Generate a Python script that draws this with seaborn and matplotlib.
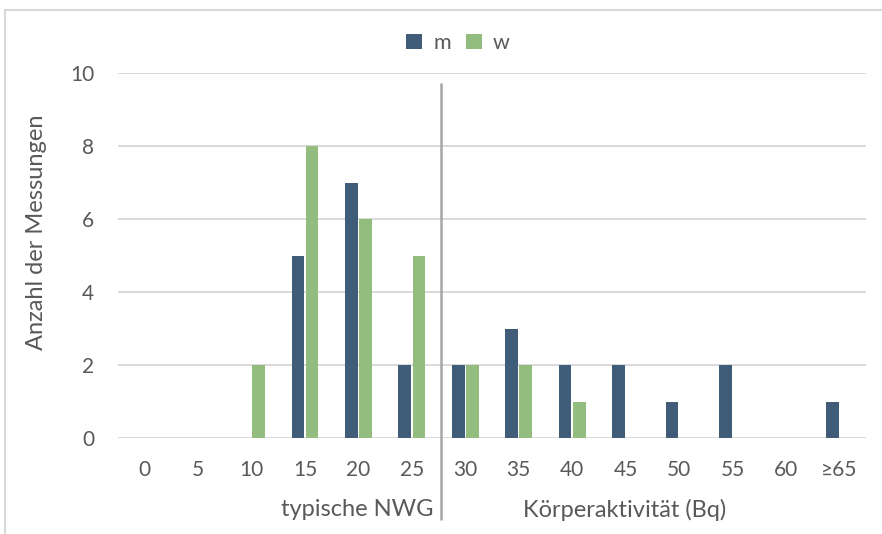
import matplotlib
matplotlib.use("Agg")
import matplotlib.pyplot as plt
import matplotlib.transforms as mtransforms
from matplotlib.patches import Rectangle
import pandas as pd
import seaborn as sns

# category axis and counts per group
categories = ["0", "5", "10", "15", "20", "25", "30", "35", "40", "45", "50", "55", "60", "≥65"]
m_counts = [0, 0, 0, 5, 7, 2, 2, 3, 2, 2, 1, 2, 0, 1]
w_counts = [0, 0, 2, 8, 6, 5, 2, 2, 1, 0, 0, 0, 0, 0]
y_ticks = [0, 2, 4, 6, 8, 10]

ylabel = "Anzahl der Messungen"
left_note = "typische NWG"
right_note = "Körperaktivität (Bq)"

colors = {"m": "#3f5d79", "w": "#93bd7e"}
text_col = "#595959"
grid_col = "#d9d9d9"

df = pd.concat([
    pd.DataFrame({"kat": categories, "n": m_counts, "g": "m"}),
    pd.DataFrame({"kat": categories, "n": w_counts, "g": "w"}),
])

sns.set_theme(style="white")
plt.rcParams["font.family"] = ["Lato", "DejaVu Sans"]

fig = plt.figure(figsize=(8.82, 5.34), dpi=100)
ax = fig.add_axes([118 / 882, 96 / 534, 748 / 882, 365 / 534])

sns.barplot(data=df, x="kat", y="n", hue="g", order=categories,
            hue_order=["m", "w"], palette=colors, width=0.53, gap=0.11,
            saturation=1, linewidth=0, ax=ax, legend=True)

ax.set_xlim(-0.5, len(categories) - 0.5)
ax.set_ylim(0, 10)
ax.set_yticks(y_ticks)
ax.yaxis.grid(True, color=grid_col, linewidth=1.4)
ax.set_axisbelow(True)
for s in ax.spines.values():
    s.set_visible(False)
ax.tick_params(axis="y", length=0, pad=17, labelsize=15, labelcolor=text_col)
ax.tick_params(axis="x", length=0, pad=16, labelsize=15, labelcolor=text_col)
ax.set_xlabel("")
ax.set_ylabel(ylabel, fontsize=17, color=text_col)
ax.yaxis.set_label_coords(-0.095, 0.565)

# separator between the two ranges
trans = mtransforms.blended_transform_factory(ax.transData, ax.transAxes)
ax.plot([5.54, 5.54], [0.973, -0.225], transform=trans, color="#a6a6a6",
        linewidth=1.8, clip_on=False, solid_capstyle="butt")
ax.text(5.40, -0.197, left_note, transform=trans, ha="right", va="center",
        fontsize=17, color=text_col)
ax.text(8.99, -0.197, right_note, transform=trans, ha="center", va="center",
        fontsize=17, color=text_col)

handles, labels = ax.get_legend_handles_labels()
ax.legend_.remove()
fig.legend(handles, labels, loc="center", bbox_to_anchor=(458 / 882, 1 - 43 / 534),
           ncol=2, frameon=False, fontsize=15.5, labelcolor=text_col,
           handlelength=0.75, handleheight=0.75, handletextpad=0.5, columnspacing=0.7)

# light chart-area border (runs off the right and bottom edge)
fig.patches.append(Rectangle((5 / 882, -0.05), 1.0, 1 - 10 / 534 + 0.05,
                             transform=fig.transFigure, fill=False,
                             edgecolor="#d9d9d9", linewidth=1.5))

fig.savefig("out.png", dpi=100)
